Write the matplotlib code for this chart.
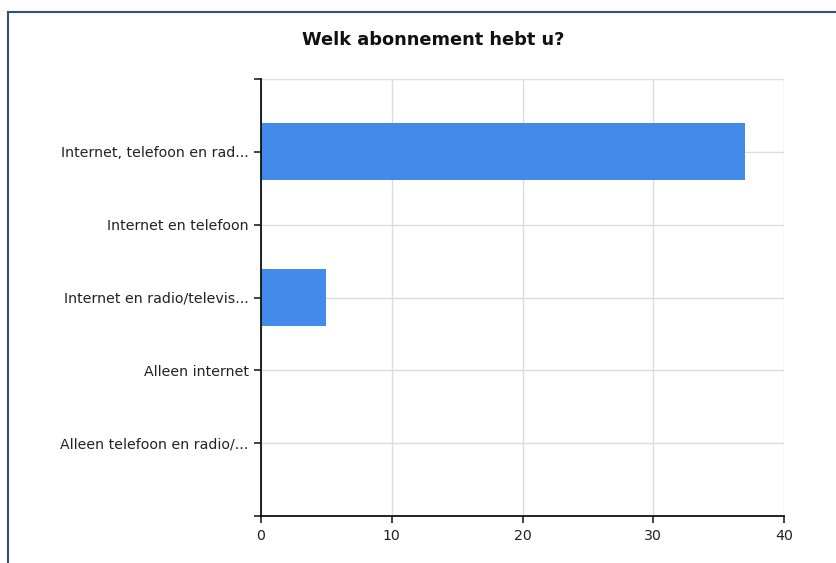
import matplotlib.pyplot as plt
from matplotlib.lines import Line2D

# data
categories = ["Internet, telefoon en rad...", "Internet en telefoon",
              "Internet en radio/televis...", "Alleen internet",
              "Alleen telefoon en radio/..."]
values = [37, 0, 5, 0, 0]
x_ticks = [0, 10, 20, 30, 40]

plt.rcParams['font.family'] = 'DejaVu Sans'

fig = plt.figure(figsize=(8.36, 5.63), dpi=100)
ax = fig.add_axes([261 / 836, 1 - 516 / 563, (784 - 261) / 836, (516 - 79) / 563])

pos = list(range(len(categories)))
ax.barh(pos, values, height=0.78, color='#428bea', zorder=3)

ax.set_ylim(5, -1)
ax.set_xlim(0, 40)
ax.set_yticks([-1] + pos + [5])
ax.set_yticklabels([''] + categories + [''], fontsize=10.2, color='#222222')
ax.set_xticks(x_ticks)
ax.set_xticklabels([str(t) for t in x_ticks], fontsize=10.2, color='#222222')
ax.tick_params(axis='both', length=5, width=1.2, color='#222222')
ax.tick_params(axis='y', pad=4)
ax.tick_params(axis='x', pad=4)

ax.grid(True, color='#dcdcdc', linewidth=1, zorder=0)
ax.set_axisbelow(True)
for side in ['top', 'right']:
    ax.spines[side].set_visible(False)
for side in ['left', 'bottom']:
    ax.spines[side].set_color('#111111')
    ax.spines[side].set_linewidth(1.3)
    ax.spines[side].set_zorder(4)

fig.text(433 / 836, 1 - 40 / 563, "Welk abonnement hebt u?", ha='center',
         va='center', fontsize=12.8, fontweight='bold', color='#111111')

# outer frame (left and top edges visible)
fig.add_artist(Line2D([7.5 / 836, 7.5 / 836], [0, 1 - 12 / 563],
                      transform=fig.transFigure, color='#2d4f86', linewidth=1.5))
fig.add_artist(Line2D([7.5 / 836, 1], [1 - 12 / 563, 1 - 12 / 563],
                      transform=fig.transFigure, color='#2d4f86', linewidth=1.5))

fig.savefig('out.png', dpi=100)
